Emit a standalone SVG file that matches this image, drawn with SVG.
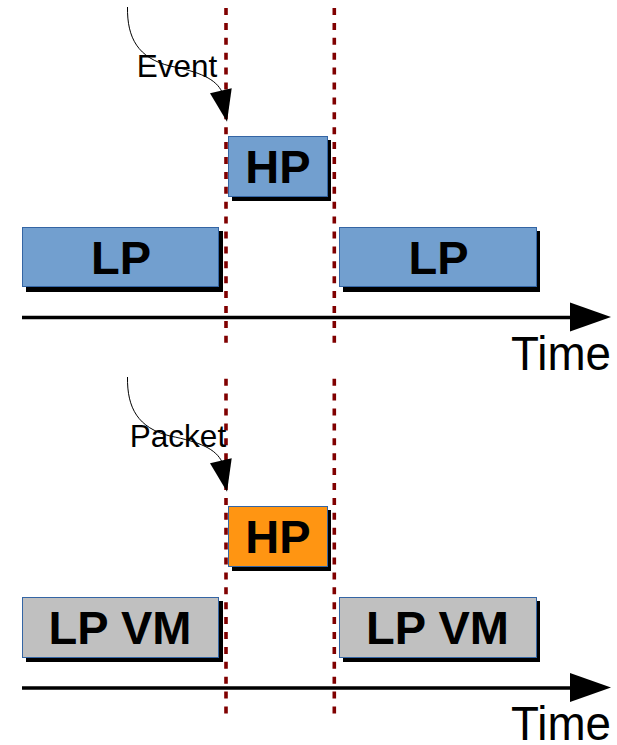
<svg xmlns="http://www.w3.org/2000/svg" width="617" height="745" viewBox="0 0 617 745">
  <style>
    .box { stroke: #3465a4; stroke-width: 1; }
    .lp { fill: #729fcf; }
    .hp-pkt { fill: #ff9512; }
    .vm { fill: #c0c0c0; }
    .shadow { fill: #000000; }
    .label { font-family: "Liberation Sans", Arial, sans-serif; font-weight: bold; font-size: 47px; fill: #000; text-anchor: middle; }
    .note { font-family: "Liberation Sans", Arial, sans-serif; font-size: 31.5px; fill: #000; text-anchor: middle; }
    .time { font-family: "Liberation Sans", Arial, sans-serif; font-size: 49px; fill: #000; }
    .marker-line { stroke: #800000; stroke-width: 3.6; stroke-dasharray: 7 7.9; fill: none; }
    .axis { stroke: #000; stroke-width: 3.6; fill: none; }
    .curve { stroke: #000; stroke-width: 1; fill: none; }
  </style>
  <defs>
    <marker id="axisHead" markerUnits="userSpaceOnUse" markerWidth="42" markerHeight="30" refX="0" refY="15" orient="auto" overflow="visible">
      <path d="M0,0 L41,14.5 L0,29 Z" fill="#000"/>
    </marker>
  </defs>

  <rect width="617" height="745" fill="#ffffff"/>

  <!-- vertical time markers -->
  <g id="time-markers">
    <line class="marker-line" x1="226" y1="8" x2="226" y2="345"/>
    <line class="marker-line" x1="334.3" y1="8" x2="334.3" y2="345"/>
    <line class="marker-line" x1="226" y1="378.7" x2="226" y2="715"/>
    <line class="marker-line" x1="334.3" y1="378.7" x2="334.3" y2="715"/>
  </g>

  <!-- upper timeline -->
  <g id="hp-top">
    <rect class="shadow" x="232" y="140" width="99" height="61"/>
    <rect class="box lp" x="228.5" y="136.5" width="99" height="60"/>
    <text class="label" x="278" y="183">HP</text>
  </g>
  <g id="lp-top-left">
    <rect class="shadow" x="26" y="231" width="197" height="61"/>
    <rect class="box lp" x="22.5" y="227.5" width="196" height="59"/>
    <text class="label" x="121" y="273.5">LP</text>
  </g>
  <g id="lp-top-right">
    <rect class="shadow" x="343" y="231" width="197" height="61"/>
    <rect class="box lp" x="339.5" y="227.5" width="197" height="59"/>
    <text class="label" x="438.5" y="273.5">LP</text>
  </g>
  <g id="event-label">
    <text class="note" x="177" y="77">Event</text>
  </g>
  <g id="time-label-top">
    <text class="time" x="511" y="370" textLength="100" lengthAdjust="spacingAndGlyphs">Time</text>
  </g>

  <!-- lower timeline -->
  <g id="hp-bottom">
    <rect class="shadow" x="232" y="510" width="99" height="61"/>
    <rect class="box hp-pkt" x="228.5" y="506.5" width="99" height="60"/>
    <text class="label" x="278" y="553">HP</text>
  </g>
  <g id="lpvm-bottom-left">
    <rect class="shadow" x="26" y="601" width="197" height="61"/>
    <rect class="box vm" x="22.5" y="597.5" width="196" height="60"/>
    <text class="label" x="120" y="644">LP VM</text>
  </g>
  <g id="lpvm-bottom-right">
    <rect class="shadow" x="343" y="601" width="197" height="61"/>
    <rect class="box vm" x="339.5" y="597.5" width="197" height="60"/>
    <text class="label" x="437.5" y="644">LP VM</text>
  </g>
  <g id="packet-label">
    <text class="note" x="178" y="447">Packet</text>
  </g>
  <g id="time-label-bottom">
    <text class="time" x="511" y="739.5" textLength="100" lengthAdjust="spacingAndGlyphs">Time</text>
  </g>

  <!-- connectors: trigger arrows and time axes -->
  <g id="connectors">
    <path class="curve" d="M127.5,7 C127,38 138,58 170,66 C200,72 216,79 222,92"/>
    <polygon points="210,93.3 231.7,88.3 227,121.7" fill="#000"/>
    <path class="curve" d="M127.5,377 C127,408 138,428 170,436 C200,442 216,449 222,462"/>
    <polygon points="210,463.3 231.7,458.3 227,491.7" fill="#000"/>

    <line class="axis" x1="22" y1="317.5" x2="570" y2="317.5" marker-end="url(#axisHead)"/>
    <line class="axis" x1="22" y1="688" x2="570" y2="688" marker-end="url(#axisHead)"/>
  </g>
</svg>
